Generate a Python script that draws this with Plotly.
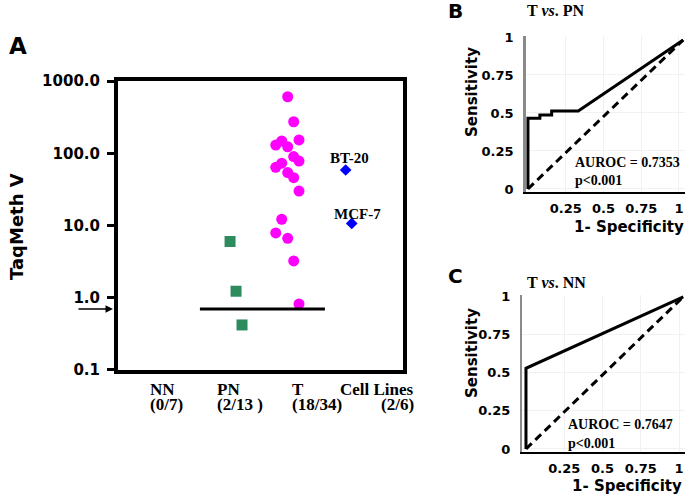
import plotly.graph_objects as go

W, H = 700, 504
def px(x): return x / W
def py(y): return 1 - y / H

# ---------------- data ----------------
categories = ["NN", "PN", "T", "Cell Lines"]
fractions = ["(0/7)", "(2/13 )", "(18/34)", "(2/6)"]
pn_values = [6.0, 1.23, 0.42]
t_values = [606, 273, 130, 148, 123, 153, 90, 78, 64, 73, 54, 46, 30, 12.2, 7.9, 6.65, 3.23, 0.82]
cell_lines = ["BT-20", "MCF-7"]
cell_values = [58.7, 10.7]
cutoff = 0.7
y_ticks = [0.1, 1, 10, 100, 1000]
y_ticktext = ["0.1", "1.0", "10.0", "100.0", "1000.0"]

roc_b_fpr = [0, 0, 0.079, 0.079, 0.157, 0.157, 0.333, 1.028]
roc_b_tpr = [0, 0.465, 0.465, 0.487, 0.487, 0.513, 0.513, 0.98]
roc_c_fpr = [0, 0, 1.028]
roc_c_tpr = [0, 0.527, 0.995]
auroc_b = "0.7353"
auroc_c = "0.7647"
roc_xticks = [0.25, 0.5, 0.75, 1]
roc_yticks = [0, 0.25, 0.5, 0.75, 1]

# jitter (layout only)
pn_jit = [0.053, 0.143, 0.233]
cols = {276: -0.26, 282: -0.17, 288: -0.08, 294: 0.01, 299: 0.09}
t_col = [288, 294, 276, 282, 288, 299, 294, 299, 276, 282, 288, 294, 299, 282, 276, 288, 294, 299]
t_jit = [cols[c] for c in t_col]
cell_jit = [-0.208, -0.117]

SANS = "DejaVu Sans"
SERIF = "Liberation Serif"

fig = go.Figure()

# Panel A
fig.add_trace(go.Scatter(x=[2 + j for j in pn_jit], y=pn_values, mode="markers",
                         marker=dict(symbol="square", size=11, color="#2E8B5E"),
                         xaxis="x", yaxis="y", showlegend=False))
fig.add_trace(go.Scatter(x=[3 + j for j in t_jit], y=t_values, mode="markers",
                         marker=dict(symbol="circle", size=11, color="#FF00FF"),
                         xaxis="x", yaxis="y", showlegend=False))
fig.add_trace(go.Scatter(x=[4 + j for j in cell_jit], y=cell_values, mode="markers",
                         marker=dict(symbol="diamond", size=9, color="#0000FF"),
                         xaxis="x", yaxis="y", showlegend=False))
fig.add_trace(go.Scatter(x=[1.60, 3.48], y=[cutoff, cutoff], mode="lines",
                         line=dict(color="black", width=3),
                         xaxis="x", yaxis="y", showlegend=False))

# Panel B
fig.add_trace(go.Scatter(x=[roc_b_fpr[0], roc_b_fpr[-1]], y=[roc_b_tpr[0], roc_b_tpr[-1]],
                         mode="lines", line=dict(color="black", width=3, dash="8px,5px"),
                         xaxis="x2", yaxis="y2", showlegend=False))
fig.add_trace(go.Scatter(x=roc_b_fpr, y=roc_b_tpr, mode="lines",
                         line=dict(color="black", width=3),
                         xaxis="x2", yaxis="y2", showlegend=False))
# Panel C
fig.add_trace(go.Scatter(x=[roc_c_fpr[0], roc_c_fpr[-1]], y=[roc_c_tpr[0], roc_c_tpr[-1]],
                         mode="lines", line=dict(color="black", width=3, dash="8px,5px"),
                         xaxis="x3", yaxis="y3", showlegend=False))
fig.add_trace(go.Scatter(x=roc_c_fpr, y=roc_c_tpr, mode="lines",
                         line=dict(color="black", width=3),
                         xaxis="x3", yaxis="y3", showlegend=False))

roc_tickfont = dict(family=SANS, size=13, color="black", weight="bold")

fig.update_layout(
    template="none",
    width=W, height=H, margin=dict(l=0, r=0, t=0, b=0, pad=0), autosize=False,
    paper_bgcolor="white", plot_bgcolor="white",
    xaxis=dict(domain=[px(118), px(403)], range=[0.368, 4.654], anchor="y", automargin=False,
               showline=True, mirror=True,
               linewidth=4, linecolor="black", showgrid=False, zeroline=False,
               showticklabels=False, ticks=""),
    yaxis=dict(domain=[py(370), py(81)], type="log", range=[-1.0005, 3.0005], anchor="x",
               automargin=False,
               showline=True, mirror=True, linewidth=4, linecolor="black",
               showgrid=False, zeroline=False, tickvals=y_ticks, ticktext=y_ticktext,
               ticks="outside", ticklen=7, tickwidth=3, tickcolor="black",
               ticklabelstandoff=4,
               tickfont=dict(family=SANS, size=15, color="black", weight="bold")),
    xaxis2=dict(domain=[px(526), px(685)], range=[-0.013, 1.04], anchor="y2", showline=True,
                automargin=False,
                linewidth=2, linecolor="black", showgrid=True, gridcolor="#f1f1f1",
                zeroline=False, tickvals=roc_xticks, ticktext=["0.25", "0.5", "0.75", "1"],
                ticks="", ticklabelstandoff=3, tickfont=roc_tickfont),
    yaxis2=dict(domain=[py(192), py(36)], range=[-0.02, 1.0066], anchor="x2", showline=True,
                automargin=False,
                linewidth=2.5, linecolor="#8a8a8a", showgrid=True, gridcolor="#f1f1f1",
                zeroline=False, tickvals=roc_yticks, ticktext=["0", "0.25", "0.5", "0.75", "1"],
                ticks="", ticklabelstandoff=7, tickfont=roc_tickfont),
    xaxis3=dict(domain=[px(522), px(685)], range=[-0.026, 1.039], anchor="y3", showline=True,
                automargin=False,
                linewidth=2, linecolor="black", showgrid=True, gridcolor="#f1f1f1",
                zeroline=False, tickvals=roc_xticks, ticktext=["0.25", "0.5", "0.75", "1"],
                ticks="", ticklabelstandoff=3, tickfont=roc_tickfont),
    yaxis3=dict(domain=[py(452), py(295)], range=[-0.02, 1.0065], anchor="x3", showline=True,
                automargin=False,
                linewidth=2, linecolor="#8a8a8a", showgrid=True, gridcolor="#f1f1f1",
                zeroline=False, tickvals=roc_yticks, ticktext=["0", "0.25", "0.5", "0.75", "1"],
                ticks="", ticklabelstandoff=7, tickfont=roc_tickfont),
)

ann = []
def txt(x, y, s, size, family, xanchor="center", yanchor="middle", angle=0):
    ann.append(dict(x=px(x), y=py(y), xref="paper", yref="paper", text=s, showarrow=False,
                    xanchor=xanchor, yanchor=yanchor, textangle=angle,
                    font=dict(family=family, size=size, color="black")))

# panel letters
txt(18, 46, "<b>A</b>", 23, SANS)
txt(455, 11, "<b>B</b>", 20, SANS)
txt(455, 276, "<b>C</b>", 20, SANS)

# panel A texts
txt(17, 227, "<b>TaqMeth V</b>", 18, SANS, angle=-90)
left_anchor = [148, 215, 290]
for i in range(3):
    txt(left_anchor[i], 389, "<b>" + categories[i] + "</b>", 17, SERIF, xanchor="left")
    txt(left_anchor[i], 404, "<b>" + fractions[i] + "</b>", 17, SERIF, xanchor="left")
txt(416, 389, "<b>" + categories[3] + "</b>", 17, SERIF, xanchor="right")
txt(416, 404, "<b>" + fractions[3] + "</b>", 17, SERIF, xanchor="right")
txt(349, 158, "<b>" + cell_lines[0] + "</b>", 15, SERIF)
txt(357, 214, "<b>" + cell_lines[1] + "</b>", 15, SERIF)

# cutoff arrow
ann.append(dict(x=px(113), y=-0.155, xref="paper", yref="y", text="", showarrow=True,
                arrowhead=2, arrowsize=1, arrowwidth=1.5, arrowcolor="black",
                ax=-36, ay=0))

# panel B texts
txt(525, 10, "<b>T <i>vs</i>. PN</b>", 16, SERIF, xanchor="left")
txt(472, 92, "<b>Sensitivity</b>", 15, SANS, angle=-90)
txt(629, 227, "<b>1- Specificity</b>", 15, SANS)
txt(573, 163, "<b>AUROC = " + auroc_b + "</b>", 14, SERIF, xanchor="left")
txt(573, 180, "<b>p&lt;0.001</b>", 14, SERIF, xanchor="left")

# panel C texts
txt(525, 282, "<b>T <i>vs</i>. NN</b>", 16, SERIF, xanchor="left")
txt(472, 353, "<b>Sensitivity</b>", 15, SANS, angle=-90)
txt(627, 486, "<b>1- Specificity</b>", 15, SANS)
txt(566, 424, "<b>AUROC = " + auroc_c + "</b>", 14, SERIF, xanchor="left")
txt(566, 443, "<b>p&lt;0.001</b>", 14, SERIF, xanchor="left")

fig.update_layout(annotations=ann)
fig.write_html("out.html", config={"displayModeBar": False},
               post_script="document.body.style.margin='0';")
